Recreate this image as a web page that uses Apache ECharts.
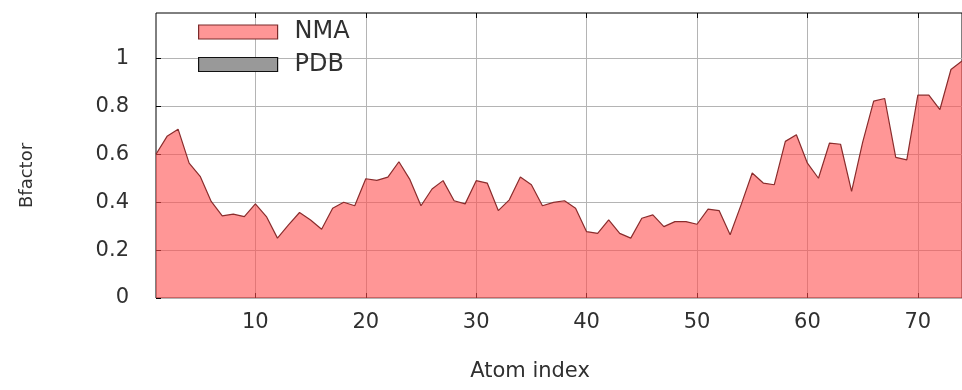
<!DOCTYPE html>
<html>
<head>
<meta charset="utf-8">
<script src="https://cdn.jsdelivr.net/npm/echarts@6/dist/echarts.min.js"></script>
<style>html,body{margin:0;padding:0;background:#fff;}#c{width:962px;height:390px;}</style>
</head>
<body>
<div id="c"></div>
<script>
const atomIndex = [1,2,3,4,5,6,7,8,9,10,11,12,13,14,15,16,17,18,19,20,21,22,23,24,25,26,27,28,29,30,31,32,33,34,35,36,37,38,39,40,41,42,43,44,45,46,47,48,49,50,51,52,53,54,55,56,57,58,59,60,61,62,63,64,65,66,67,68,69,70,71,72,73,74];
const nmaValues = [0.600,0.675,0.705,0.563,0.508,0.403,0.343,0.350,0.340,0.393,
                   0.340,0.250,0.305,0.357,0.326,0.287,0.375,0.400,0.385,0.498,
                   0.491,0.505,0.569,0.494,0.385,0.455,0.490,0.406,0.393,0.490,
                   0.480,0.365,0.410,0.505,0.473,0.385,0.399,0.406,0.375,0.277,
                   0.270,0.326,0.270,0.250,0.333,0.347,0.298,0.319,0.319,0.308,
                   0.371,0.365,0.264,0.390,0.522,0.480,0.473,0.654,0.682,0.563,
                   0.500,0.647,0.642,0.445,0.650,0.822,0.833,0.587,0.577,0.847,
                   0.847,0.787,0.954,0.990];
const pdbValues = [];
const xTicks = [10,20,30,40,50,60,70];
const yTicks = [0,0.2,0.4,0.6,0.8,1];

const txt = '#303030';
const font = 'DejaVu Sans';
const chart = echarts.init(document.getElementById('c'), null, {renderer:'canvas'});
chart.setOption({
  animation:false,
  backgroundColor:'#fff',
  grid:{left:156, top:13, width:810, height:285, show:true, borderColor:'#000', borderWidth:1, backgroundColor:'transparent'},
  legend:[
    {left:193, top:15, orient:'vertical', icon:'rect', itemWidth:79, itemHeight:14,
     data:[{name:'NMA', itemStyle:{color:'#ff9696', borderColor:'#7a2a2a', borderWidth:1.2}}],
     textStyle:{fontFamily:font, fontSize:24, color:txt, padding:[0,0,0,12]}, selectedMode:false},
    {left:193, top:47.5, orient:'vertical', icon:'rect', itemWidth:79, itemHeight:14,
     data:[{name:'PDB', itemStyle:{color:'#999999', borderColor:'#111', borderWidth:1.2}}],
     textStyle:{fontFamily:font, fontSize:24, color:txt, padding:[0,0,0,12]}, selectedMode:false}
  ],
  xAxis:[{
    type:'value', min:1, max:74, position:'bottom',
    name:'Atom index', nameLocation:'middle', nameGap:63,
    nameTextStyle:{fontFamily:font, fontSize:21, color:txt, padding:[0,58,0,0]},
    axisLine:{show:false},
    axisTick:{show:true, inside:true, length:5, lineStyle:{color:'#000'}, customValues:xTicks},
    axisLabel:{fontFamily:font, fontSize:21, color:txt, margin:14, customValues:xTicks},
    splitLine:{show:true, lineStyle:{color:'#b4b4b4', width:1}}
  },{
    type:'value', min:1, max:74, position:'top',
    axisLine:{show:false},
    axisTick:{show:true, inside:true, length:5, lineStyle:{color:'#000'}, customValues:xTicks},
    axisLabel:{show:false}, splitLine:{show:false}
  }],
  yAxis:{
    type:'value', min:0, max:1.19,
    name:'Bfactor', nameLocation:'middle', nameGap:120, nameRotate:90,
    nameTextStyle:{fontFamily:font, fontSize:18, color:txt, padding:[0,0,0,-40]},
    axisLine:{show:false},
    axisTick:{show:true, inside:true, length:5, lineStyle:{color:'#000'}, customValues:yTicks},
    axisLabel:{fontFamily:font, fontSize:21, color:txt, margin:27, customValues:yTicks},
    splitLine:{show:true, lineStyle:{color:'#b4b4b4', width:1}}
  },
  series:[
    {name:'NMA', type:'line', xAxisIndex:0, data:atomIndex.map((x,i)=>[x,nmaValues[i]]),
     symbol:'none', lineStyle:{color:'#8a2c2c', width:1.2},
     areaStyle:{color:'rgba(255,80,80,0.6)', opacity:1}, z:3},
    {name:'PDB', type:'line', xAxisIndex:0, data:pdbValues.map((v,i)=>[atomIndex[i],v]),
     symbol:'none', lineStyle:{color:'#333', width:1}, areaStyle:{color:'rgba(120,120,120,0.7)', opacity:1}}
  ]
});
</script>
</body>
</html>
